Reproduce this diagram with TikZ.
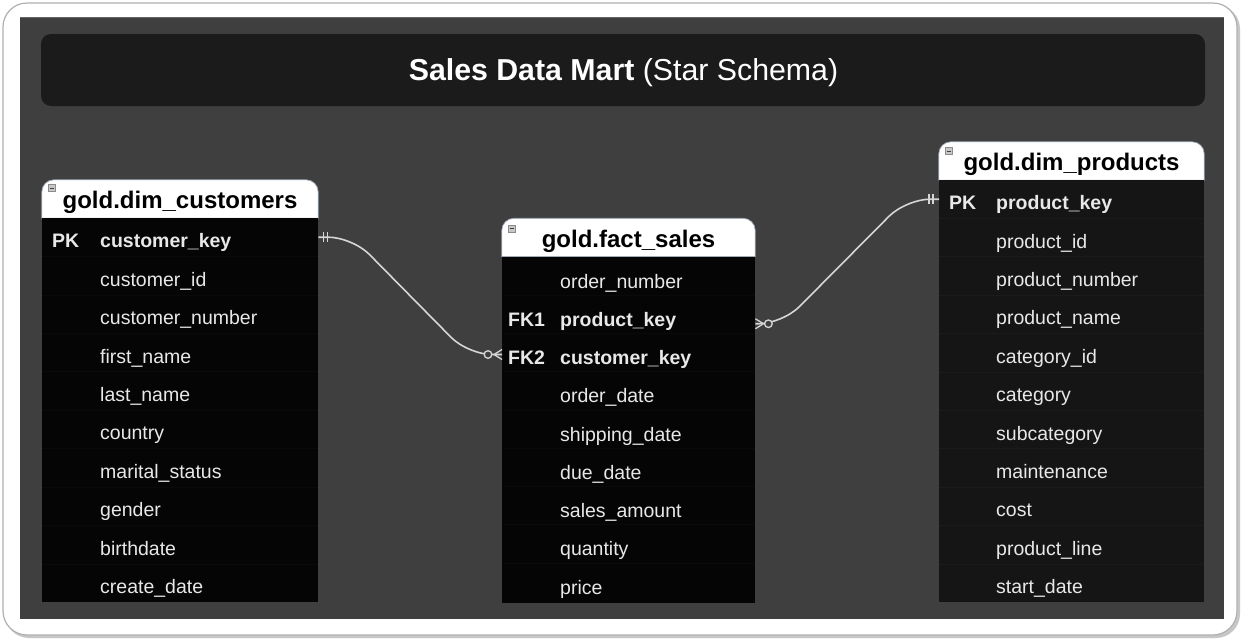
\documentclass[tikz,border=0pt]{standalone}
\usepackage{fontspec}
\setmainfont{Liberation Sans}
\usetikzlibrary{backgrounds,calc}
\definecolor{bgdark}{HTML}{3F3F3F}
\definecolor{titlebar}{HTML}{1B1B1B}
\definecolor{bodyblack}{HTML}{050505}
\definecolor{bodygray}{HTML}{151515}
\definecolor{sepdark}{HTML}{0A0A0A}
\definecolor{sepgray}{HTML}{1B1B1B}
\definecolor{fieldtext}{HTML}{E8E8E8}
\definecolor{connline}{HTML}{D6D6D6}
\definecolor{framegray}{HTML}{B0B0B0}
\definecolor{hdrline}{HTML}{9AA4B4}
\newcommand{\erhdrfill}[1]{%
  \filldraw[fill=white,draw=hdrline,line width=0.7pt] (#1.south west) [rounded corners=12pt] -- (#1.north west) -- (#1.north east) [sharp corners] -- (#1.south east) -- cycle;}
\begin{document}
\begin{tikzpicture}[x=1pt,y=-1pt,
  titlebox/.style={rectangle,rounded corners=10pt,fill=titlebar,minimum width=1164pt,minimum height=72pt,inner sep=0pt},
  titletext/.style={inner sep=0pt,text=white,font=\fontsize{30.3}{32}\selectfont},
  hdr/.style={rectangle,minimum height=38pt,inner sep=0pt,text height=22pt,text depth=3pt,text=black,font=\bfseries\fontsize{24}{26}\selectfont},
  tbody/.style={rectangle,anchor=north west,inner sep=0pt,draw=none},
  fieldrow/.style={anchor=west,inner xsep=0pt,inner ysep=0pt,text height=21pt,text depth=0pt,text=fieldtext,font=\fontsize{19.5}{20}\selectfont},
  minbox/.style={rectangle,minimum size=7pt,inner sep=0pt,fill=black!22,draw=black!45,line width=0.4pt,
    path picture={\draw[black!75,line width=0.6pt] ([xshift=1.4pt]path picture bounding box.west) -- ([xshift=-1.4pt]path picture bounding box.east);}},
  conn/.style={draw=connline,line width=1.6pt,rounded corners=24pt},
  endmark/.style={draw=connline,line width=1.3pt},
  ring/.style={draw=connline,line width=1.3pt,fill=bgdark}
]
\useasboundingbox (0,0) rectangle (1242,640);

% title
\node[titlebox] (title) at (623,70) {};
\node[titletext] (titletxt) at (623.5,73) {\textbf{Sales Data Mart} (Star Schema)};

% ---------- customers ----------
\node[hdr,minimum width=276pt] (custH) at (180,199) {gold.dim\_customers};
\node[tbody,fill=bodyblack,minimum width=276pt,minimum height=384pt] (custB) at (42,218) {};
\foreach \i in {1,...,9} \draw[sepdark,line width=0.6pt] (42,218+38.44*\i) -- (318,218+38.44*\i);
\foreach \fld [count=\i from 0] in {
  \makebox[48pt][l]{\bfseries PK}\textbf{customer\_key},
  \makebox[48pt][l]{}customer\_id,
  \makebox[48pt][l]{}customer\_number,
  \makebox[48pt][l]{}first\_name,
  \makebox[48pt][l]{}last\_name,
  \makebox[48pt][l]{}country,
  \makebox[48pt][l]{}marital\_status,
  \makebox[48pt][l]{}gender,
  \makebox[48pt][l]{}birthdate,
  \makebox[48pt][l]{}create\_date}
  \node[fieldrow] (cr\i) at (52,237.2+38.44*\i) {\fld};
\node[minbox] (custI) at ($(custH.north west)+(10,8)$) {};

% ---------- fact ----------
\node[hdr,minimum width=253pt] (factH) at (628.5,237.5) {gold.fact\_sales};
\node[tbody,fill=bodyblack,minimum width=253pt,minimum height=346pt] (factB) at (502,257) {};
\foreach \i in {1,...,8} \draw[sepdark,line width=0.6pt] (502,257+38.25*\i) -- (755,257+38.25*\i);
\foreach \fld [count=\i from 0] in {
  \makebox[52pt][l]{}order\_number,
  \makebox[52pt][l]{\bfseries FK1}\textbf{product\_key},
  \makebox[52pt][l]{\bfseries FK2}\textbf{customer\_key},
  \makebox[52pt][l]{}order\_date,
  \makebox[52pt][l]{}shipping\_date,
  \makebox[52pt][l]{}due\_date,
  \makebox[52pt][l]{}sales\_amount,
  \makebox[52pt][l]{}quantity,
  \makebox[52pt][l]{}price}
  \node[fieldrow] (fr\i) at (508,277.5+38.25*\i) {\fld};
\node[minbox] (factI) at ($(factH.north west)+(10,10)$) {};

% ---------- products ----------
\node[hdr,minimum width=265pt] (prodH) at (1071.5,161) {gold.dim\_products};
\node[tbody,fill=bodygray,minimum width=265pt,minimum height=422pt] (prodB) at (939,180) {};
\foreach \i in {1,...,10} \draw[sepgray,line width=0.7pt] (939,180+38.4*\i) -- (1204,180+38.4*\i);
\foreach \fld [count=\i from 0] in {
  \makebox[47pt][l]{\bfseries PK}\textbf{product\_key},
  \makebox[47pt][l]{}product\_id,
  \makebox[47pt][l]{}product\_number,
  \makebox[47pt][l]{}product\_name,
  \makebox[47pt][l]{}category\_id,
  \makebox[47pt][l]{}category,
  \makebox[47pt][l]{}subcategory,
  \makebox[47pt][l]{}maintenance,
  \makebox[47pt][l]{}cost,
  \makebox[47pt][l]{}product\_line,
  \makebox[47pt][l]{}start\_date}
  \node[fieldrow] (pr\i) at (949,199.2+38.4*\i) {\fld};
\node[minbox] (prodI) at ($(prodH.north west)+(10,9)$) {};

% frame, background and header shapes behind everything
\begin{pgfonlayer}{background}
  \fill[white] (0,0) rectangle (1242,640);
  \fill[black!22,rounded corners=24pt] (5,5) rectangle (1240,638);
  \filldraw[fill=white,draw=framegray,line width=1.2pt,rounded corners=24pt] (3,3) rectangle (1237,635);
  \fill[bgdark] (20,17) rectangle (1224,619);
  \draw[black!60,line width=0.8pt] (20,17.5) -- (1224,17.5);
  \erhdrfill{custH}
  \erhdrfill{factH}
  \erhdrfill{prodH}
\end{pgfonlayer}

% ---------- connectors ----------
% customers.customer_key  ||----o<  fact.customer_key
\coordinate (a1) at (cr0.west -| custB.east);
\coordinate (a2) at ($(fr2.west -| factB.west)+(0,0.5)$);
\draw[conn] (a1) -- ($(a1)+(34,0)$) -- ($(a2)+(-34,0)$) -- (a2);
\draw[endmark] ($(a1)+(5,-5)$) -- ($(a1)+(5,5)$) ($(a1)+(9,-5)$) -- ($(a1)+(9,5)$);
\draw[endmark] ($(a2)+(-8,0)$) -- ($(a2)+(0,-5)$) ($(a2)+(-8,0)$) -- ($(a2)+(0,5)$);
\draw[ring] ($(a2)+(-14,0)$) circle (3.8pt);

% fact.product_key  >o----||  products.product_key
\coordinate (b1) at ($(fr1.west -| factB.east)+(0,8)$);
\coordinate (b2) at (pr0.west -| prodB.west);
\draw[conn] (b1) -- ($(b1)+(27,0)$) -- ($(b2)+(-33,0)$) -- (b2);
\draw[endmark] ($(b1)+(8,0)$) -- ($(b1)+(0,-5)$) ($(b1)+(8,0)$) -- ($(b1)+(0,5)$);
\draw[ring] ($(b1)+(13,0)$) circle (3.8pt);
\draw[endmark] ($(b2)+(-10,-5)$) -- ($(b2)+(-10,5)$) ($(b2)+(-6,-5)$) -- ($(b2)+(-6,5)$);
\end{tikzpicture}
\end{document}
